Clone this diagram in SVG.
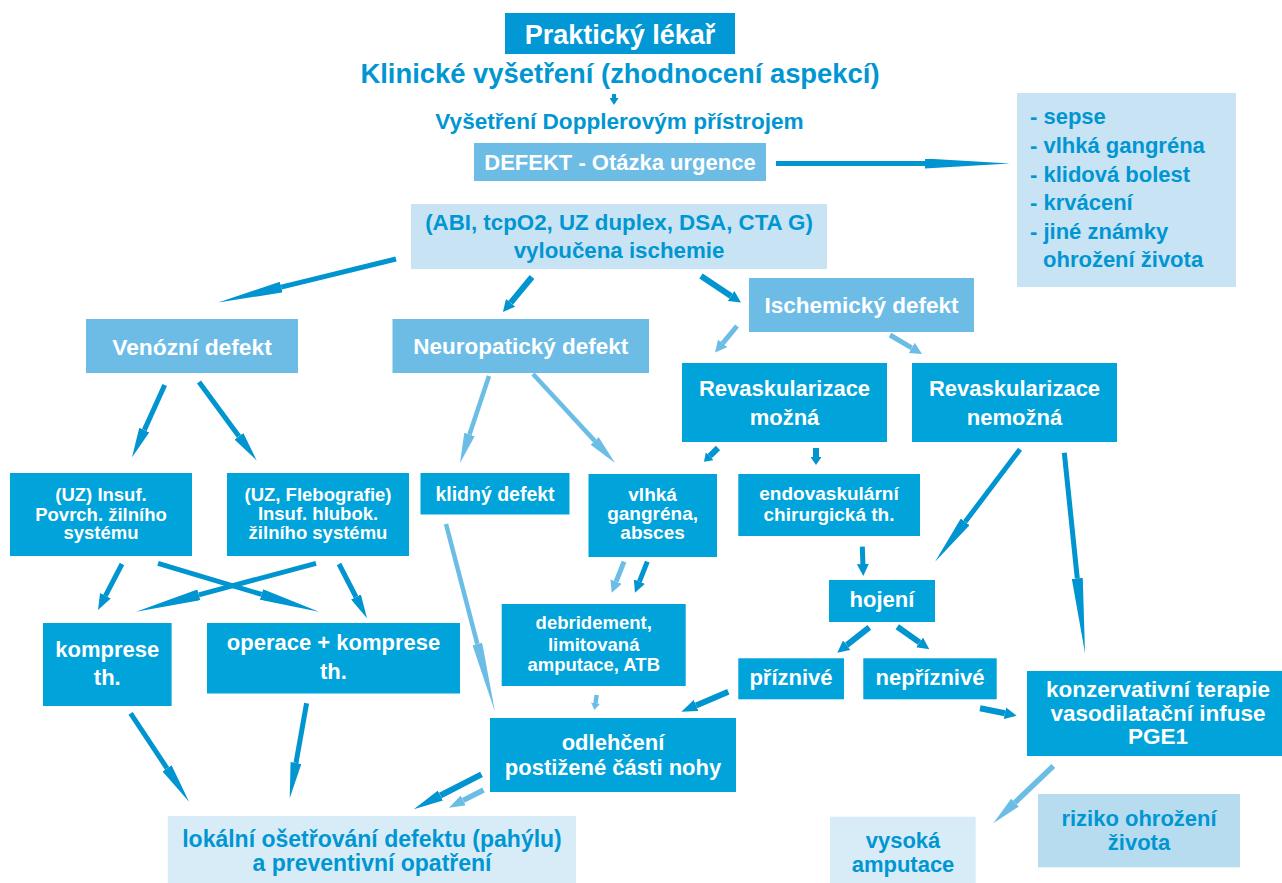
<svg xmlns="http://www.w3.org/2000/svg" width="1282" height="883" viewBox="0 0 1282 883">
<style>
text{font-family:"Liberation Sans",Arial,sans-serif;font-weight:bold;text-anchor:middle}
.w{fill:#ffffff}
.b{fill:#0096d2}
.dk{fill:#00a3da}
.pl{fill:#0198d5}
.md{fill:#6cbce6}
.lt{fill:#c8e3f4}
.lr{fill:#b7dcf0}
.ll{fill:#d8ecf8}
.cd{stroke:#0095d0;stroke-width:5;fill:none}
.cl{stroke:#6cbde6;stroke-width:4.5;fill:none}
.hd{fill:#0095d0}
.hl{fill:#6cbde6}
</style>
<defs>
<marker id="d7" markerUnits="userSpaceOnUse" markerWidth="7" markerHeight="9" viewBox="0 0 7 9" refX="0" refY="4.5" orient="auto"><path class="hd" d="M0,0L7,4.5L0,9z"/></marker>
<marker id="d8" markerUnits="userSpaceOnUse" markerWidth="8" markerHeight="11" viewBox="0 0 8 11" refX="0" refY="5.5" orient="auto"><path class="hd" d="M0,0L8,5.5L0,11z"/></marker>
<marker id="d12" markerUnits="userSpaceOnUse" markerWidth="12" markerHeight="12" viewBox="0 0 12 12" refX="0" refY="6" orient="auto"><path class="hd" d="M0,0L12,6L0,12z"/></marker>
<marker id="d16" markerUnits="userSpaceOnUse" markerWidth="16" markerHeight="12" viewBox="0 0 16 12" refX="0" refY="6" orient="auto"><path class="hd" d="M0,0L16,6L0,12z"/></marker>
<marker id="d24" markerUnits="userSpaceOnUse" markerWidth="24" markerHeight="11" viewBox="0 0 24 11" refX="0" refY="5.5" orient="auto"><path class="hd" d="M0,0L24,5.5L0,11z"/></marker>
<marker id="d30" markerUnits="userSpaceOnUse" markerWidth="30" markerHeight="11" viewBox="0 0 30 11" refX="0" refY="5.5" orient="auto"><path class="hd" d="M0,0L30,5.5L0,11z"/></marker>
<marker id="d36" markerUnits="userSpaceOnUse" markerWidth="36" markerHeight="11" viewBox="0 0 36 11" refX="0" refY="5.5" orient="auto"><path class="hd" d="M0,0L36,5.5L0,11z"/></marker>
<marker id="d40" markerUnits="userSpaceOnUse" markerWidth="40" markerHeight="11" viewBox="0 0 40 11" refX="0" refY="5.5" orient="auto"><path class="hd" d="M0,0L40,5.5L0,11z"/></marker>
<marker id="d50" markerUnits="userSpaceOnUse" markerWidth="50" markerHeight="11" viewBox="0 0 50 11" refX="0" refY="5.5" orient="auto"><path class="hd" d="M0,0L50,5.5L0,11z"/></marker>
<marker id="d60" markerUnits="userSpaceOnUse" markerWidth="60" markerHeight="11" viewBox="0 0 60 11" refX="0" refY="5.5" orient="auto"><path class="hd" d="M0,0L60,5.5L0,11z"/></marker>
<marker id="d65" markerUnits="userSpaceOnUse" markerWidth="65" markerHeight="11" viewBox="0 0 65 11" refX="0" refY="5.5" orient="auto"><path class="hd" d="M0,0L65,5.5L0,11z"/></marker>
<marker id="d75" markerUnits="userSpaceOnUse" markerWidth="75" markerHeight="11" viewBox="0 0 75 11" refX="0" refY="5.5" orient="auto"><path class="hd" d="M0,0L75,5.5L0,11z"/></marker>
<marker id="d85" markerUnits="userSpaceOnUse" markerWidth="85" markerHeight="10" viewBox="0 0 85 10" refX="0" refY="5" orient="auto"><path class="hd" d="M0,0L85,5L0,10z"/></marker>
<marker id="l7" markerUnits="userSpaceOnUse" markerWidth="7" markerHeight="9" viewBox="0 0 7 9" refX="0" refY="4.5" orient="auto"><path class="hl" d="M0,0L7,4.5L0,9z"/></marker>
<marker id="l12" markerUnits="userSpaceOnUse" markerWidth="12" markerHeight="12" viewBox="0 0 12 12" refX="0" refY="6" orient="auto"><path class="hl" d="M0,0L12,6L0,12z"/></marker>
<marker id="l16" markerUnits="userSpaceOnUse" markerWidth="16" markerHeight="11" viewBox="0 0 16 11" refX="0" refY="5.5" orient="auto"><path class="hl" d="M0,0L16,5.5L0,11z"/></marker>
<marker id="l30" markerUnits="userSpaceOnUse" markerWidth="30" markerHeight="11" viewBox="0 0 30 11" refX="0" refY="5.5" orient="auto"><path class="hl" d="M0,0L30,5.5L0,11z"/></marker>
<marker id="l70" markerUnits="userSpaceOnUse" markerWidth="70" markerHeight="10" viewBox="0 0 70 10" refX="0" refY="5" orient="auto"><path class="hl" d="M0,0L70,5L0,10z"/></marker>
</defs>
<rect width="1282" height="883" fill="#ffffff"/>

<g id="connectors">
<path class="cd" style="stroke-width:4" d="M614,94L614,98" marker-end="url(#d7)"/>
<path class="cd" d="M776,163.5L925,163.5" marker-end="url(#d85)"/>
<path class="cd" d="M396,259L281.2,287.1" marker-end="url(#d65)"/>
<path class="cd" style="stroke-width:6" d="M532,277L510.6,302.8" marker-end="url(#d12)"/>
<path class="cd" style="stroke-width:6" d="M701,276L731,295.9" marker-end="url(#d12)"/>
<path class="cl" style="stroke-width:5" d="M737,326L722.7,343.3" marker-end="url(#l12)"/>
<path class="cl" style="stroke-width:5" d="M890,335L911.7,347.9" marker-end="url(#l12)"/>
<path class="cd" d="M164.7,385L144.3,430.1" marker-end="url(#d30)"/>
<path class="cd" d="M199,382L238.9,436.3" marker-end="url(#d30)"/>
<path class="cl" d="M489,376L469.5,434.5" marker-end="url(#l30)"/>
<path class="cl" d="M533,374L594.7,440.9" marker-end="url(#l30)"/>
<path class="cd" style="stroke-width:6" d="M718,448L709.7,456.1" marker-end="url(#d8)"/>
<path class="cd" style="stroke-width:6" d="M816,448L816,457" marker-end="url(#d8)"/>
<path class="cd" d="M1020,449.3L965.2,521.8" marker-end="url(#d50)"/>
<path class="cd" d="M1064.3,452.7L1077.3,578.4" marker-end="url(#d75)"/>
<path class="cd" d="M122,564L105.4,595.8" marker-end="url(#d16)"/>
<path class="cd" d="M158,563.3L261.5,594.4" marker-end="url(#d60)"/>
<path class="cd" d="M316,563.3L198.8,594.8" marker-end="url(#d65)"/>
<path class="cd" d="M339,564L356,597" marker-end="url(#d24)"/>
<path class="cl" d="M446,524L477.3,643.9" marker-end="url(#l70)"/>
<path class="cl" style="stroke-width:5" d="M624,561.7L616.1,581.6" marker-end="url(#l12)"/>
<path class="cd" d="M647.3,561.7L639.4,581.6" marker-end="url(#d12)"/>
<path class="cd" d="M862.3,546.7L862.9,564" marker-end="url(#d12)"/>
<path class="cd" style="stroke-width:6" d="M869.3,627.3L846.7,645.2" marker-end="url(#d12)"/>
<path class="cd" style="stroke-width:6" d="M897.3,626.7L919.5,642.4" marker-end="url(#d12)"/>
<path class="cl" d="M596.7,695L595.5,703" marker-end="url(#l7)"/>
<path class="cd" style="stroke-width:6" d="M728.3,691.7L696.1,705.4" marker-end="url(#d16)"/>
<path class="cd" style="stroke-width:6" d="M980,708.3L1004.9,713.3" marker-end="url(#d12)"/>
<path class="cd" d="M130.6,713.3L167,768.3" marker-end="url(#d40)"/>
<path class="cd" d="M306.6,703.3L296,762.9" marker-end="url(#d36)"/>
<path class="cd" style="stroke-width:6" d="M481.5,774.3L440.4,795.5" marker-end="url(#d30)"/>
<path class="cl" style="stroke-width:5.5" d="M483.5,790L463.2,800.4" marker-end="url(#l16)"/>
<path class="cl" style="stroke-width:5.5" d="M1053.3,766L1015,802.6" marker-end="url(#l30)"/>
</g>

<g id="prakticky-lekar">
<rect class="pl" x="505" y="13" width="230" height="41"/>
<text class="w" x="620" y="43.5" font-size="27">Praktický lékař</text>
</g>
<g id="klinicke-vysetreni">
<text class="b" x="620" y="83" font-size="27.4">Klinické vyšetření (zhodnocení aspekcí)</text>
</g>
<g id="doppler">
<text class="b" x="619.5" y="128.5" font-size="22.6">Vyšetření Dopplerovým přístrojem</text>
</g>
<g id="defekt">
<rect class="md" x="474" y="143" width="292" height="38"/>
<text class="w" x="620" y="170" font-size="22">DEFEKT - Otázka urgence</text>
</g>
<g id="urgence-list">
<rect class="lt" x="1017" y="93" width="219" height="194"/>
<text class="b" x="1030" y="124.3" font-size="22" style="text-anchor:start">- sepse</text>
<text class="b" x="1030" y="152.7" font-size="22" style="text-anchor:start">- vlhká gangréna</text>
<text class="b" x="1030" y="181.7" font-size="22" style="text-anchor:start">- klidová bolest</text>
<text class="b" x="1030" y="210" font-size="22" style="text-anchor:start">- krvácení</text>
<text class="b" x="1030" y="239.3" font-size="22" style="text-anchor:start">- jiné známky</text>
<text class="b" x="1043" y="267.3" font-size="22" style="text-anchor:start">ohrožení života</text>
</g>
<g id="abi">
<rect class="lt" x="411" y="204" width="416" height="65"/>
<text class="b" x="619" y="230" font-size="22.3">(ABI, tcpO2, UZ duplex, DSA, CTA G)</text>
<text class="b" x="619" y="258" font-size="22.3">vyloučena ischemie</text>
</g>
<g id="venozni-defekt">
<rect class="md" x="86" y="319" width="212" height="54"/>
<text class="w" x="192" y="355" font-size="22.8">Venózní defekt</text>
</g>
<g id="neuropaticky-defekt">
<rect class="md" x="392.5" y="319" width="256.5" height="54"/>
<text class="w" x="520.7" y="354" font-size="22.5">Neuropatický defekt</text>
</g>
<g id="ischemicky-defekt">
<rect class="md" x="749" y="278" width="225" height="54"/>
<text class="w" x="861.5" y="313" font-size="22.5">Ischemický defekt</text>
</g>
<g id="revask-mozna">
<rect class="dk" x="682" y="363" width="205" height="79"/>
<text class="w" x="784.5" y="396" font-size="22">Revaskularizace</text>
<text class="w" x="784.5" y="424.5" font-size="22">možná</text>
</g>
<g id="revask-nemozna">
<rect class="dk" x="912" y="363" width="205" height="79"/>
<text class="w" x="1014.5" y="396" font-size="22">Revaskularizace</text>
<text class="w" x="1014.5" y="424.5" font-size="22">nemožná</text>
</g>
<g id="insuf-povrch">
<rect class="dk" x="10" y="473" width="182" height="83"/>
<text class="w" x="101" y="501" font-size="18.5">(UZ) Insuf.</text>
<text class="w" x="101" y="520.5" font-size="18.5">Povrch. žilního</text>
<text class="w" x="101" y="539" font-size="18.5">systému</text>
</g>
<g id="insuf-hlubok">
<rect class="dk" x="227" y="473" width="182" height="83"/>
<text class="w" x="318" y="501" font-size="18.5">(UZ, Flebografie)</text>
<text class="w" x="318" y="520" font-size="18.5">Insuf. hlubok.</text>
<text class="w" x="318" y="539" font-size="18.5">žilního systému</text>
</g>
<g id="klidny-defekt">
<rect class="dk" x="420.5" y="473" width="149" height="41.5"/>
<text class="w" x="495" y="501" font-size="19.5">klidný defekt</text>
</g>
<g id="vlhka-gangrena">
<rect class="dk" x="588.5" y="474" width="128.5" height="83"/>
<text class="w" x="652.6" y="500.7" font-size="19">vlhká</text>
<text class="w" x="652.6" y="520" font-size="19">gangréna,</text>
<text class="w" x="652.6" y="539" font-size="19">absces</text>
</g>
<g id="endovaskularni">
<rect class="dk" x="738.3" y="474" width="181.7" height="62"/>
<text class="w" x="829" y="499.5" font-size="19">endovaskulární</text>
<text class="w" x="829" y="521" font-size="19">chirurgická th.</text>
</g>
<g id="hojeni">
<rect class="dk" x="829" y="580" width="106" height="42"/>
<text class="w" x="882" y="607" font-size="22">hojení</text>
</g>
<g id="debridement">
<rect class="dk" x="501.7" y="604" width="184" height="82"/>
<text class="w" x="593.7" y="629.3" font-size="18.5">debridement,</text>
<text class="w" x="593.7" y="650.7" font-size="18.5">limitovaná</text>
<text class="w" x="593.7" y="670.7" font-size="18.5">amputace, ATB</text>
</g>
<g id="komprese">
<rect class="dk" x="43" y="623" width="128.6" height="83"/>
<text class="w" x="107.3" y="656.7" font-size="22">komprese</text>
<text class="w" x="107.3" y="685" font-size="22">th.</text>
</g>
<g id="operace">
<rect class="dk" x="207" y="623" width="253" height="70.5"/>
<text class="w" x="333.5" y="650" font-size="22">operace + komprese</text>
<text class="w" x="333.5" y="679.3" font-size="22">th.</text>
</g>
<g id="priznive">
<rect class="dk" x="738.3" y="658.3" width="105.7" height="41"/>
<text class="w" x="791" y="685" font-size="22">příznivé</text>
</g>
<g id="nepriznive">
<rect class="dk" x="863.3" y="658.3" width="133.4" height="41"/>
<text class="w" x="930" y="685" font-size="22">nepříznivé</text>
</g>
<g id="konzervativni">
<rect class="dk" x="1027" y="671" width="255" height="85"/>
<text class="w" x="1158" y="697.3" font-size="22.5">konzervativní terapie</text>
<text class="w" x="1158" y="720.7" font-size="22.5">vasodilatační infuse</text>
<text class="w" x="1158" y="744.3" font-size="22.5">PGE1</text>
</g>
<g id="odlehceni">
<rect class="dk" x="490" y="718" width="246" height="74"/>
<text class="w" x="613" y="750" font-size="22">odlehčení</text>
<text class="w" x="613" y="775" font-size="22">postižené části nohy</text>
</g>
<g id="lokalni">
<rect class="ll" x="167.8" y="816" width="408.2" height="67"/>
<text class="b" x="372" y="846.7" font-size="23">lokální ošetřování defektu (pahýlu)</text>
<text class="b" x="372" y="871" font-size="23">a preventivní opatření</text>
</g>
<g id="vysoka-amputace">
<rect class="ll" x="830" y="816.7" width="145.7" height="66.3"/>
<text class="b" x="903" y="847.7" font-size="22">vysoká</text>
<text class="b" x="903" y="871.7" font-size="22">amputace</text>
</g>
<g id="riziko">
<rect class="lr" x="1038" y="794" width="202" height="73.3"/>
<text class="b" x="1139" y="826" font-size="22">riziko ohrožení</text>
<text class="b" x="1139" y="849.5" font-size="22">života</text>
</g>
</svg>
